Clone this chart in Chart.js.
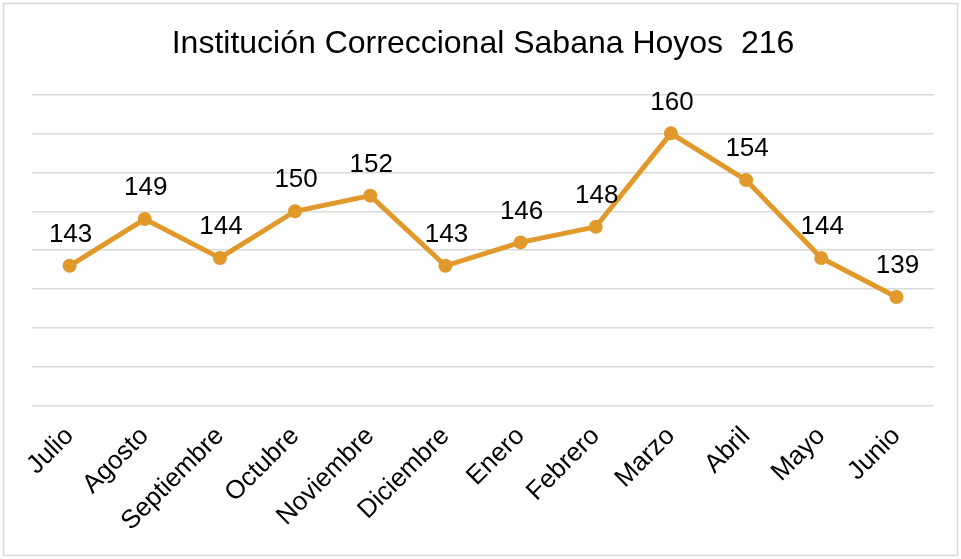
<!DOCTYPE html>
<html>
<head>
<meta charset="utf-8">
<script src="https://cdn.jsdelivr.net/npm/chart.js@4/dist/chart.umd.min.js"></script>
<style>
  html, body { margin: 0; padding: 0; background: #fff; }
  #wrap { position: relative; width: 961px; height: 559px; }
</style>
</head>
<body>
<div id="wrap"><canvas id="chart" width="961" height="559"></canvas></div>
<script>
// chart data
var months = ['Julio', 'Agosto', 'Septiembre', 'Octubre', 'Noviembre', 'Diciembre',
              'Enero', 'Febrero', 'Marzo', 'Abril', 'Mayo', 'Junio'];
var population = [143, 149, 144, 150, 152, 143, 146, 148, 160, 154, 144, 139];
var chartTitle = 'Institución Correccional Sabana Hoyos  216';
var yMin = 125, yMax = 165, yStep = 5;

var lineColor = '#E2992B';
var fontFamily = '"Liberation Sans", Arial, sans-serif';

// white background + light frame around the whole chart
const framePlugin = {
  id: 'frame',
  beforeDraw: function (chart) {
    const ctx = chart.ctx;
    ctx.save();
    ctx.fillStyle = '#ffffff';
    ctx.fillRect(0, 0, chart.width, chart.height);
    ctx.strokeStyle = '#d9d9d9';
    ctx.lineWidth = 1.5;
    ctx.strokeRect(3.5, 3.5, 954, 552);
    ctx.restore();
  }
};

// value labels above each point
const valueLabels = {
  id: 'valueLabels',
  afterDatasetsDraw: function (chart) {
    const ctx = chart.ctx;
    const meta = chart.getDatasetMeta(0);
    ctx.save();
    ctx.fillStyle = '#000000';
    ctx.font = '26px ' + fontFamily;
    ctx.textAlign = 'center';
    ctx.textBaseline = 'middle';
    meta.data.forEach(function (pt, i) {
      ctx.fillText(String(chart.data.datasets[0].data[i]), pt.x + 1, pt.y - 31);
    });
    ctx.restore();
  }
};

const config = {
  type: 'line',
  data: {
    labels: months,
    datasets: [{
      data: population,
      borderColor: lineColor,
      backgroundColor: lineColor,
      borderWidth: 5,
      pointRadius: 7,
      pointBackgroundColor: lineColor,
      pointBorderColor: lineColor,
      pointBorderWidth: 0,
      tension: 0,
      fill: false
    }]
  },
  options: {
    responsive: false,
    animation: false,
    layout: { padding: { left: 32, right: 27, top: 0, bottom: 0 } },
    plugins: {
      legend: { display: false },
      tooltip: { enabled: false },
      title: {
        display: true,
        text: chartTitle,
        color: '#000000',
        font: { family: fontFamily, size: 32, weight: 'normal', lineHeight: 1.2 },
        padding: { top: 25, bottom: 31 }
      }
    },
    scales: {
      x: {
        offset: true,
        grid: { display: false, drawTicks: false },
        border: { display: false },
        ticks: {
          autoSkip: false,
          minRotation: 45,
          maxRotation: 45,
          padding: 15,
          color: '#000000',
          font: { family: fontFamily, size: 26 }
        },
        afterFit: function (scale) { scale.height = 153; }
      },
      y: {
        min: yMin,
        max: yMax,
        ticks: { display: false, stepSize: yStep },
        border: { display: false },
        grid: { color: '#d9d9d9', lineWidth: 1.5, drawTicks: false },
        afterFit: function (scale) { scale.width = 0; }
      }
    }
  },
  plugins: [framePlugin, valueLabels]
};

new Chart(document.getElementById('chart'), config);
</script>
</body>
</html>
